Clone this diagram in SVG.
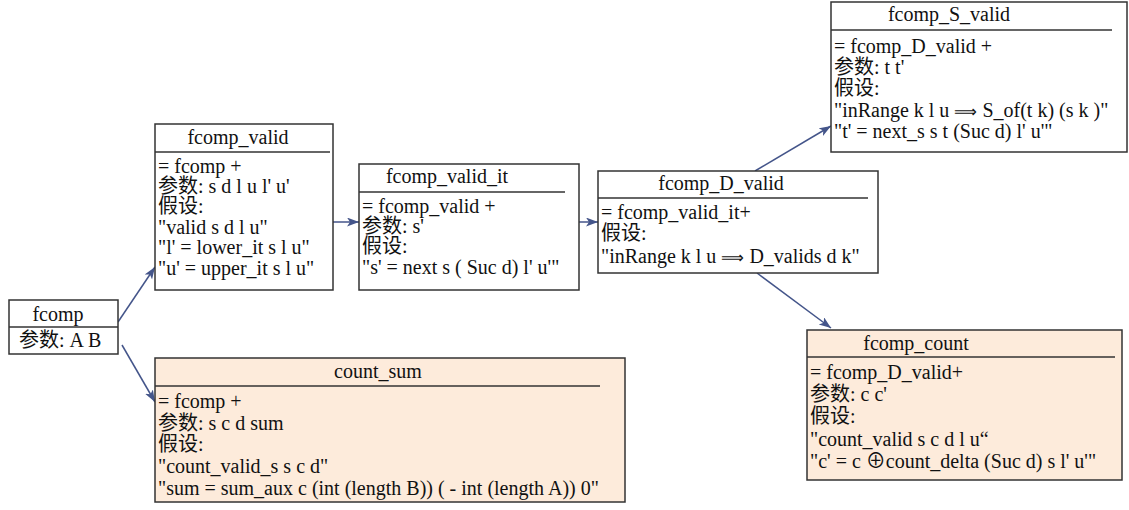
<svg xmlns="http://www.w3.org/2000/svg" width="1129" height="510" viewBox="0 0 1129 510" font-family="'Liberation Serif', 'Times New Roman', Times, 'Noto Sans CJK SC', serif">
<style>
.box{fill:#fff;stroke:#333;stroke-width:1.5}
.peach{fill:#fdebdb;stroke:#333;stroke-width:1.5}
.div{stroke:#333;stroke-width:1.5;fill:none}
text{font-family:'Liberation Serif','Times New Roman',Times,'Noto Sans CJK SC',serif;font-size:20px;fill:#111}
.t{text-anchor:middle}
.ar{font-size:16px}
.edge{stroke:#44558a;stroke-width:1.5;fill:none;marker-end:url(#arr)}
</style>
<defs>
<marker id="arr" markerUnits="userSpaceOnUse" markerWidth="14" markerHeight="10" refX="12" refY="4.5" orient="auto">
<path d="M0,0 L12,4.5 L0,9 L3,4.5 z" fill="#44558a"/>
</marker>
</defs>
<rect width="1129" height="510" fill="#fff"/>
<g id="connectors">
<path class="edge" d="M118,322 L155,267"/>
<path class="edge" d="M122,345 L155,402"/>
<path class="edge" d="M333,222 L359,222"/>
<path class="edge" d="M579,222 L598,222"/>
<path class="edge" d="M755,171 L831,126"/>
<path class="edge" d="M757,273 L831,328"/>
</g>
<g id="fcomp">
<rect class="box" x="9" y="300" width="109" height="54"/>
<line class="div" x1="9" y1="327" x2="118" y2="327"/>
<text class="t" x="58" y="321">fcomp</text>
<text x="19" y="347">参数: A B</text>
</g>
<g id="fcomp_valid">
<rect class="box" x="155" y="124" width="178" height="166"/>
<line class="div" x1="155" y1="152" x2="330" y2="152"/>
<text class="t" x="238" y="144">fcomp_valid</text>
<text x="158" y="173">= fcomp +</text>
<text x="158" y="193">参数: s d l u l' u'</text>
<text x="158" y="213">假设:</text>
<text x="158" y="234">"valid s d l u"</text>
<text x="158" y="254">"l' = lower_it s l u"</text>
<text x="158" y="275">"u' = upper_it s l u"</text>
</g>
<g id="fcomp_valid_it">
<rect class="box" x="359" y="164" width="220" height="126"/>
<line class="div" x1="359" y1="192" x2="565" y2="192"/>
<text class="t" x="447" y="183">fcomp_valid_it</text>
<text x="362" y="213">= fcomp_valid +</text>
<text x="362" y="233">参数: s'</text>
<text x="362" y="253">假设:</text>
<text x="362" y="274">"s' = next s ( Suc d) l' u'"</text>
</g>
<g id="fcomp_D_valid">
<rect class="box" x="598" y="171" width="280" height="102"/>
<line class="div" x1="598" y1="198" x2="868" y2="198"/>
<text class="t" x="721" y="190">fcomp_D_valid</text>
<text x="601" y="219">= fcomp_valid_it+</text>
<text x="601" y="240">假设:</text>
<text x="601" y="263">"inRange k l u <tspan class="ar">⟹</tspan> D_valids d k"</text>
</g>
<g id="fcomp_S_valid">
<rect class="box" x="831" y="2" width="296" height="150"/>
<line class="div" x1="831" y1="30" x2="1112" y2="30"/>
<text class="t" x="949" y="21">fcomp_S_valid</text>
<text x="834" y="53">= fcomp_D_valid +</text>
<text x="834" y="74">参数: t t'</text>
<text x="834" y="95">假设:</text>
<text x="834" y="117">"inRange k l u <tspan class="ar">⟹</tspan> S_of(t k) (s k )"</text>
<text x="834" y="138">"t' = next_s s t (Suc d) l' u'"</text>
</g>
<g id="fcomp_count">
<rect class="peach" x="807" y="330" width="315" height="150"/>
<line class="div" x1="807" y1="357" x2="1115" y2="357"/>
<text class="t" x="916" y="350">fcomp_count</text>
<text x="810" y="379">= fcomp_D_valid+</text>
<text x="810" y="401">参数: c c'</text>
<text x="810" y="423">假设:</text>
<text x="810" y="446">"count_valid s c d l u“</text>
<text x="810" y="468">"c' = c ⊕count_delta  (Suc d) s l' u'"</text>
</g>
<g id="count_sum">
<rect class="peach" x="155" y="358" width="470" height="144"/>
<line class="div" x1="155" y1="386" x2="600" y2="386"/>
<text class="t" x="378" y="378">count_sum</text>
<text x="158" y="408">= fcomp +</text>
<text x="158" y="430">参数: s c d sum</text>
<text x="158" y="451">假设:</text>
<text x="158" y="473">"count_valid_s s c d"</text>
<text x="158" y="495">"sum = sum_aux c (int (length B)) ( - int (length A)) 0"</text>
</g>
</svg>
